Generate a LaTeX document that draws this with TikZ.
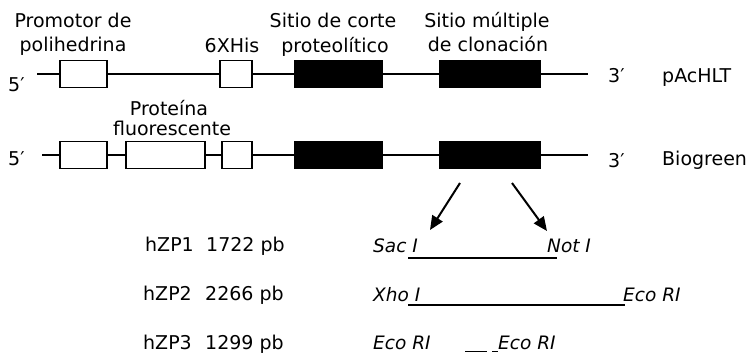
\documentclass[tikz,border=0pt]{standalone}
\usepackage{fontspec}
\setmainfont{DejaVu Sans}
\usetikzlibrary{arrows.meta}
\begin{document}
\begin{tikzpicture}[x=1pt,y=-1pt,
  lbl/.style={anchor=base, inner sep=0pt, font=\fontsize{19}{22}\selectfont},
  lblw/.style={anchor=base west, inner sep=0pt, font=\fontsize{19}{22}\selectfont},
  enz/.style={anchor=base west, inner sep=0pt, font=\fontsize{18.5}{22}\selectfont\itshape},
  dna/.style={line width=2pt},
  wbox/.style={draw, fill=white, line width=1.6pt, minimum height=27pt, inner sep=0pt},
  bbox/.style={draw, fill=black, line width=1.6pt, minimum height=27pt, inner sep=0pt},
  arr/.style={line width=2pt, -{Triangle[length=14pt,width=12pt]}},
  ins/.style={line width=1.5pt}
]
\useasboundingbox (0,0) rectangle (750,353);

% Row 1: pAcHLT
\coordinate (s1) at (37,74);
\coordinate (e1) at (588,74);
\node[wbox, minimum width=47pt] (prom1) at (83.5,74) {};
\node[wbox, minimum width=32pt] (his1) at (236,74) {};
\node[bbox, minimum width=87pt] (cut1) at (338.5,74) {};
\node[bbox, minimum width=100pt] (mcs1) at (490,74) {};
\draw[dna] (s1) -- (prom1) (prom1) -- (his1) (his1) -- (cut1) (cut1) -- (mcs1) (mcs1) -- (e1);

% Row 2: Biogreen
\coordinate (s2) at (42,155);
\coordinate (e2) at (588,155);
\node[wbox, minimum width=47pt] (prom2) at (83.5,155) {};
\node[wbox, minimum width=79pt] (fluo2) at (165.5,155) {};
\node[wbox, minimum width=30pt] (his2) at (237,155) {};
\node[bbox, minimum width=87pt] (cut2) at (338.5,155) {};
\node[bbox, minimum width=100pt] (mcs2) at (490,155) {};
\draw[dna] (s2) -- (prom2) (prom2) -- (fluo2) (fluo2) -- (his2) (his2) -- (cut2) (cut2) -- (mcs2) (mcs2) -- (e2);

% End labels
\node[lblw] (p5a) at (8,92) {5′};
\node[lblw] (p3a) at (608,83) {3′};
\node[lblw] (nma) at (662,82) {pAcHLT};
\node[lblw] (p5b) at (8,165) {5′};
\node[lblw] (p3b) at (608,167) {3′};
\node[lblw] (nmb) at (662,165) {Biogreen};

% Feature labels
\node[lbl] (t1a) at (73,28) {Promotor de};
\node[lbl] (t1b) at (73,52) {polihedrina};
\node[lbl] (t2) at (232,53) {6XHis};
\node[lbl] (t3a) at (333,28) {Sitio de corte};
\node[lbl] (t3b) at (335,53) {proteolítico};
\node[lbl] (t4a) at (487,28) {Sitio múltiple};
\node[lbl] (t4b) at (488,52) {de clonación};
\node[lbl] (t5a) at (169,115) {Proteína};
\node[lbl] (t5b) at (172,135) {fluorescente};

% Arrows
\coordinate (a1s) at (460,183);
\coordinate (a1e) at (430,230);
\coordinate (a2s) at (512,183);
\coordinate (a2e) at (547,231);
\draw[arr] (a1s) -- (a1e);
\draw[arr] (a2s) -- (a2e);

% Inserts
\node[lblw] (h1) at (145,251) {hZP1};
\node[lblw] (l1) at (206,251) {1722 pb};
\node[lblw] (h2) at (143,300) {hZP2};
\node[lblw] (l2) at (205,300) {2266 pb};
\node[lblw] (h3) at (143,349) {hZP3};
\node[lblw] (l3) at (205,349) {1299 pb};

\node[enz] (sac) at (373,252) {Sac I};
\node[enz] (not) at (547,252) {Not I};
\coordinate (u1s) at (408,258);
\coordinate (u1e) at (557,258);
\draw[ins] (u1s) -- (u1e);

\node[enz] (xho) at (373,301) {Xho I};
\node[enz] (eco2) at (623,301) {Eco RI};
\coordinate (u2s) at (408,305);
\coordinate (u2e) at (625,305);
\draw[ins] (u2s) -- (u2e);

\node[enz] (eco3a) at (373,349) {Eco RI};
\node[enz] (eco3b) at (498,349) {Eco RI};
\coordinate (u3s) at (465,351.5);
\coordinate (u3e) at (487,351.5);
\coordinate (u4s) at (492,351.5);
\coordinate (u4e) at (498,351.5);
\draw[ins] (u3s) -- (u3e) (u4s) -- (u4e);
\end{tikzpicture}
\end{document}
